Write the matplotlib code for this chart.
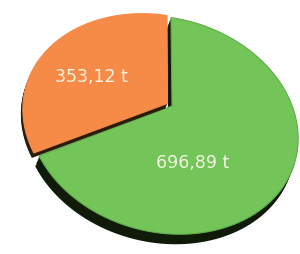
import numpy as np
import matplotlib.pyplot as plt
from matplotlib.patches import Polygon

# data
values = [353.12, 696.89]
labels = ['353,12 t', '696,89 t']
colors = ['#f68b47', '#73c459']
rim_colors = ['#f68b47', '#5fae47']
wall_colors = ['#2b1d0c', '#101a08']

# look of the 3d pie (pixels, y up)
CX, CY = 163, 129          # centre of the top ellipse
RA, RB = 137, 107          # half axes
TILT = np.radians(-15)
APEX = (172, 148)          # where the slices meet
START = 102
EXPLODE = [0.04, 0.0]
DEPTH = [(-2, -5), (-4, -10)]
LABEL_SHIFT = [(-6, 2), (2, -17)]


def rot(a):
    c, s = np.cos(a), np.sin(a)
    return np.array([[c, -s, 0], [s, c, 0], [0, 0, 1]])


# unit disk -> image: affine to the ellipse, after a projective shift of the centre
A = np.array([[RA * np.cos(TILT), -RB * np.sin(TILT), CX],
              [RA * np.sin(TILT), RB * np.cos(TILT), CY],
              [0, 0, 1]])
q = np.linalg.solve(A, [APEX[0], APEX[1], 1])
q = q[:2] / q[2]
t = np.arctanh(np.hypot(*q))
beta = np.arctan2(q[1], q[0])
boost = np.array([[np.cosh(t), 0, np.sinh(t)], [0, 1, 0], [np.sinh(t), 0, np.cosh(t)]])
Hm = A @ rot(beta) @ boost @ rot(-beta)


def project(u, v):
    p = Hm @ np.vstack([u, v, np.ones_like(u)])
    return np.column_stack([p[0] / p[2], p[1] / p[2]])


def wedge(a1, a2, explode):
    th = np.radians(np.linspace(a1, a2, 120))
    mid = np.radians((a1 + a2) / 2)
    ox, oy = explode * np.cos(mid), explode * np.sin(mid)
    u = np.concatenate([[0], np.cos(th)]) + ox
    v = np.concatenate([[0], np.sin(th)]) + oy
    return project(u, v)


def centroid(pts):
    x, y = pts[:, 0], pts[:, 1]
    x2, y2 = np.roll(x, -1), np.roll(y, -1)
    cr = x * y2 - x2 * y
    a = cr.sum() / 2
    return (((x + x2) * cr).sum() / (6 * a), ((y + y2) * cr).sum() / (6 * a))


fig = plt.figure(figsize=(3, 2.55), dpi=100)
ax = fig.add_axes([0, 0, 1, 1])
ax.set_xlim(0, 300)
ax.set_ylim(0, 255)
ax.axis('off')

spans = np.array(values) / sum(values) * 360
edges = START + np.concatenate([[0], np.cumsum(spans)])

faces = []
for i in range(len(values)):
    faces.append(wedge(edges[i], edges[i + 1], EXPLODE[i]))

# green first (behind), then orange
for i in [1, 0]:
    pts = faces[i]
    dx, dy = DEPTH[i]
    for f in np.linspace(0.15, 1, 8):
        ax.add_patch(Polygon(pts + [dx * f, dy * f], closed=True,
                             facecolor=wall_colors[i], edgecolor='none', zorder=2 + 3 * (1 - i)))
    ax.add_patch(Polygon(pts, closed=True, facecolor=colors[i],
                         edgecolor=rim_colors[i], lw=0.8, zorder=3 + 3 * (1 - i)))

for i in range(len(values)):
    cx, cy = centroid(faces[i])
    sx, sy = LABEL_SHIFT[i]
    ax.text(cx + sx, cy + sy, labels[i], ha='center', va='center', fontsize=12.5,
            color='#f6f4e2', zorder=10)

plt.savefig('out.png', dpi=100)
